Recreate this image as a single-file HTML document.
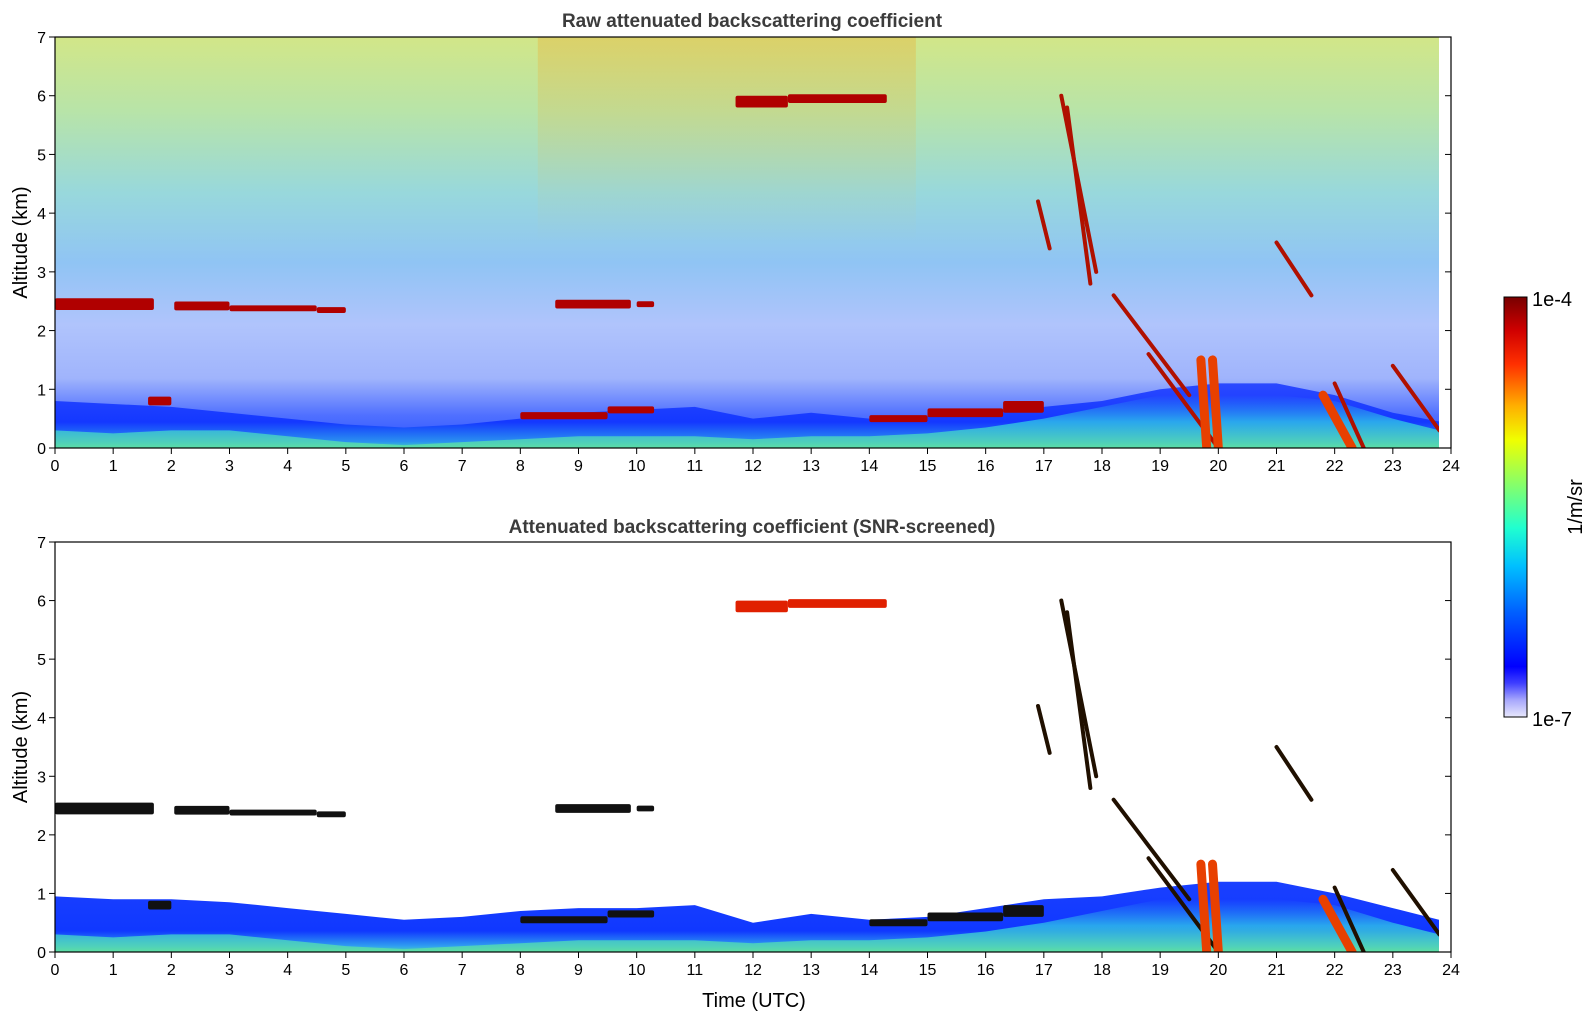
<!DOCTYPE html>
<html><head><meta charset="utf-8"><style>
html,body{margin:0;padding:0;background:#fff;}
svg{display:block;font-family:"Liberation Sans",sans-serif;}
</style></head><body>
<svg id="fig" width="1595" height="1020" viewBox="0 0 1595 1020" xmlns="http://www.w3.org/2000/svg">
<defs>
<linearGradient id="rawBg" x1="0" y1="0" x2="0" y2="1">
<stop offset="0" stop-color="#d2e688"/>
<stop offset="0.18" stop-color="#b8e4a8"/>
<stop offset="0.38" stop-color="#98d8dc"/>
<stop offset="0.55" stop-color="#90c4f4"/>
<stop offset="0.70" stop-color="#b0c4fc"/>
<stop offset="0.83" stop-color="#a0b4fc"/>
<stop offset="0.92" stop-color="#5070ff"/>
<stop offset="1" stop-color="#2850ff"/>
</linearGradient>
<linearGradient id="blRaw" x1="0" y1="0" x2="0" y2="1">
<stop offset="0" stop-color="#2a48ff"/>
<stop offset="0.6" stop-color="#1438ff"/>
<stop offset="0.9" stop-color="#2a90f0"/>
<stop offset="1" stop-color="#40d0c0"/>
</linearGradient>
<linearGradient id="blScr" x1="0" y1="0" x2="0" y2="1">
<stop offset="0" stop-color="#1a40ff"/>
<stop offset="0.7" stop-color="#1038ff"/>
<stop offset="0.92" stop-color="#30a0f0"/>
<stop offset="1" stop-color="#50d8b0"/>
</linearGradient>
<linearGradient id="warm" x1="0" y1="0" x2="0" y2="1">
<stop offset="0" stop-color="#f0a020" stop-opacity="0.3"/>
<stop offset="1" stop-color="#f0c040" stop-opacity="0"/>
</linearGradient>
<linearGradient id="lowCyan" x1="0" y1="0" x2="0" y2="1">
<stop offset="0" stop-color="#30b0f0" stop-opacity="0"/>
<stop offset="0.5" stop-color="#30c8e8" stop-opacity="0.9"/>
<stop offset="1" stop-color="#60e0a0" stop-opacity="1"/>
</linearGradient>
<linearGradient id="cbar" x1="0" y1="1" x2="0" y2="0">
<stop offset="0" stop-color="#e8e8fc"/>
<stop offset="0.04" stop-color="#a8a8fc"/>
<stop offset="0.08" stop-color="#4040ff"/>
<stop offset="0.12" stop-color="#0000ff"/>
<stop offset="0.25" stop-color="#0060ff"/>
<stop offset="0.36" stop-color="#00c0ff"/>
<stop offset="0.45" stop-color="#20ffd0"/>
<stop offset="0.58" stop-color="#a0ff50"/>
<stop offset="0.66" stop-color="#f0ff00"/>
<stop offset="0.74" stop-color="#ffb000"/>
<stop offset="0.84" stop-color="#ff3000"/>
<stop offset="0.92" stop-color="#d00000"/>
<stop offset="1" stop-color="#780000"/>
</linearGradient>
<clipPath id="clipTop"><rect x="55" y="37" width="1384" height="411"/></clipPath>
<clipPath id="clipBot"><rect x="55" y="542" width="1384" height="410"/></clipPath>
</defs>
<g id="topPanel"></g>
<g id="botPanel"></g>
<g id="cb">
<rect x="1504" y="297" width="23" height="420" fill="url(#cbar)" stroke="#000" stroke-width="1"/>
<text x="1532" y="306" font-size="20" fill="#000">1e-4</text>
<text x="1532" y="726" font-size="20" fill="#000">1e-7</text>
<text x="0" y="0" font-size="20" fill="#000" text-anchor="middle" transform="translate(1582,507) rotate(-90)">1/m/sr</text>
</g>
<text x="752" y="27" font-size="19" font-weight="bold" fill="#3c3c3c" text-anchor="middle">Raw attenuated backscattering coefficient</text>
<text x="752" y="533" font-size="19" font-weight="bold" fill="#3c3c3c" text-anchor="middle">Attenuated backscattering coefficient (SNR-screened)</text>
<text x="754" y="1007" font-size="20" fill="#000" text-anchor="middle">Time (UTC)</text>
</svg>
<script>
// ---- data ----
const hours = [0,1,2,3,4,5,6,7,8,9,10,11,12,13,14,15,16,17,18,19,20,21,22,23,23.8];
const blTopScreened = [0.95,0.9,0.9,0.85,0.75,0.65,0.55,0.6,0.7,0.75,0.75,0.8,0.5,0.65,0.55,0.6,0.75,0.9,0.95,1.1,1.2,1.2,1.0,0.75,0.55];
const blTopRaw = [0.8,0.75,0.7,0.6,0.5,0.4,0.35,0.4,0.5,0.6,0.65,0.7,0.5,0.6,0.5,0.55,0.6,0.7,0.8,1.0,1.1,1.1,0.9,0.6,0.45];
const cyanDepth = [0.3,0.25,0.3,0.3,0.2,0.1,0.05,0.1,0.15,0.2,0.2,0.2,0.15,0.2,0.2,0.25,0.35,0.5,0.7,0.9,0.9,0.9,0.8,0.5,0.3];
// cloud layers: start hour, end hour, altitude (km), thickness (km)
const cloudStart = [0.0,2.05,3.0,4.5,8.6,10.0,11.7,12.6,1.6,8.0,9.5,14.0,15.0,16.3];
const cloudEnd   = [1.7,3.0,4.5,5.0,9.9,10.3,12.6,14.3,2.0,9.5,10.3,15.0,16.3,17.0];
const cloudAlt   = [2.45,2.42,2.38,2.35,2.45,2.45,5.9,5.95,0.8,0.55,0.65,0.5,0.6,0.7];
const cloudThk   = [0.2,0.15,0.1,0.1,0.15,0.1,0.2,0.15,0.15,0.12,0.12,0.12,0.15,0.2];
// slanted cirrus / precipitation streaks: start hour, start alt, end hour, end alt
const streakT0 = [17.3,17.4,18.2,18.8,21.0,22.0,23.0,16.9,21.8,19.7,19.9];
const streakA0 = [6.0,5.8,2.6,1.6,3.5,1.1,1.4,4.2,0.9,1.5,1.5];
const streakT1 = [17.9,17.8,19.5,20.0,21.6,22.5,23.8,17.1,22.3,19.8,20.0];
const streakA1 = [3.0,2.8,0.9,0.0,2.6,0.0,0.3,3.4,0.0,0.0,0.0];
const xTicks = [0,1,2,3,4,5,6,7,8,9,10,11,12,13,14,15,16,17,18,19,20,21,22,23,24];
const yTicks = [0,1,2,3,4,5,6,7];

const NS='http://www.w3.org/2000/svg';
const X0=55,X1=1451,XD=1439;
const xs=t=>X0+t*(X1-X0)/24;
function mk(tag,attrs,parent){const e=document.createElementNS(NS,tag);for(const k in attrs)e.setAttribute(k,attrs[k]);parent.appendChild(e);return e;}

function panel(g,top,bottom,raw){
  const ys=a=>bottom-a*(bottom-top)/7;
  const clip=mk('g',{'clip-path':raw?'url(#clipTop)':'url(#clipBot)'},g);
  if(raw){
    const bg=mk('rect',{x:X0,y:top,width:XD-X0,height:bottom-top,fill:'url(#rawBg)'},clip);
    
    
    const w=mk('rect',{x:xs(8.3),y:top,width:xs(14.8)-xs(8.3),height:ys(3.5)-top,fill:'url(#warm)'},clip);
    
    
  }
  const bl=raw?blTopRaw:blTopScreened;
  let d='M'+xs(hours[0])+','+bottom;
  hours.forEach((h,i)=>{d+=' L'+xs(h)+','+ys(bl[i]);});
  d+=' L'+xs(hours[hours.length-1])+','+bottom+' Z';
  const p=mk('path',{d:d,fill:raw?'url(#blRaw)':'url(#blScr)'},clip);
  
  
  let d2='M'+xs(hours[0])+','+bottom;
  hours.forEach((h,i)=>{d2+=' L'+xs(h)+','+ys(cyanDepth[i]);});
  d2+=' L'+xs(hours[hours.length-1])+','+bottom+' Z';
  const c=mk('path',{d:d2,fill:'url(#lowCyan)',opacity:0.85},clip);
  
  
  const cc=raw?'#b00000':'#111';
  cloudStart.forEach((s,i)=>{
    const r=mk('rect',{x:xs(s),y:ys(cloudAlt[i]+cloudThk[i]/2),width:xs(cloudEnd[i])-xs(s),height:Math.max(3,ys(0)-ys(cloudThk[i])),fill:(cloudAlt[i]>5&&!raw)?'#e02000':cc,rx:2},clip);
    
    
  });
  streakT0.forEach((t,i)=>{
    const l=mk('line',{x1:xs(t),y1:ys(streakA0[i]),x2:xs(streakT1[i]),y2:ys(streakA1[i]),stroke:i>=8?'#e84000':(raw?'#b01000':'#201000'),'stroke-width':i>=8?9:4,'stroke-linecap':'round'},clip);
    
    
  });
  const f=mk('rect',{x:X0,y:top,width:X1-X0,height:bottom-top,fill:'none',stroke:'#000','stroke-width':1.2},g);
  
  
  xTicks.forEach(t=>{
    mk('line',{x1:xs(t),y1:bottom,x2:xs(t),y2:bottom+6,stroke:'#000'},g);
    const tx=mk('text',{x:xs(t),y:bottom+23,'font-size':16,'text-anchor':'middle'},g);
    tx.textContent=t;
    
    
  });
  yTicks.forEach(a=>{
    mk('line',{x1:X0-6,y1:ys(a),x2:X0,y2:ys(a),stroke:'#000'},g);
    mk('line',{x1:X1-6,y1:ys(a),x2:X1,y2:ys(a),stroke:'#000'},g);
    const tx=mk('text',{x:X0-9,y:ys(a)+6,'font-size':16,'text-anchor':'end'},g);
    tx.textContent=a;
    
    
  });
  const yl=mk('text',{x:0,y:0,'font-size':20,'text-anchor':'middle',transform:'translate(27,'+((top+bottom)/2)+') rotate(-90)'},g);
  yl.textContent='Altitude (km)';
  
  
}
panel(document.getElementById('topPanel'),37,448,true);
panel(document.getElementById('botPanel'),542,952,false);
</script>
</body></html>
